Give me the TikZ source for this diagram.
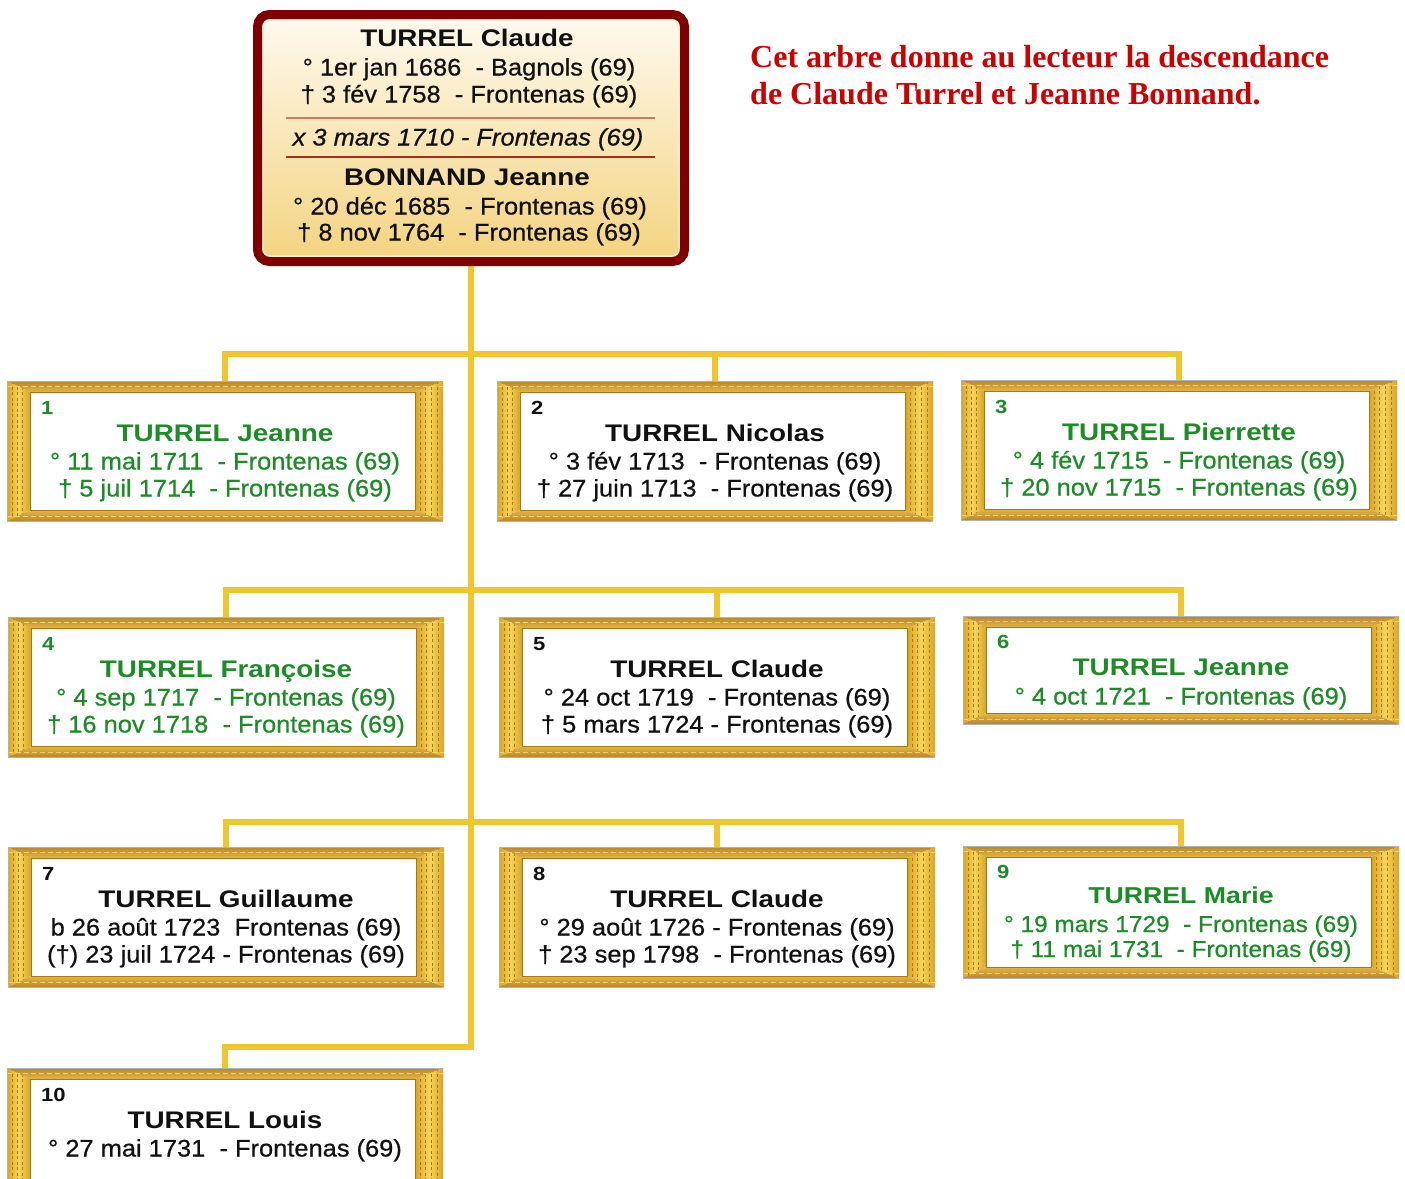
\documentclass[tikz,border=0pt]{standalone}
\usepackage{fontspec}
\setmainfont[FakeStretch=1.06,FakeBold=0.6]{Liberation Sans}
\newfontfamily\namefont[FakeStretch=1.16]{Liberation Sans}
\newfontfamily\capfont{Liberation Serif}
\usetikzlibrary{backgrounds}
\definecolor{connY}{RGB}{240,198,46}
\definecolor{goldA}{HTML}{F6D55A}
\definecolor{goldB}{HTML}{D9A424}
\definecolor{goldD}{HTML}{A87818}
\definecolor{goldT1}{HTML}{B8862C}
\definecolor{goldT2}{HTML}{E2B645}
\definecolor{darkRed}{HTML}{7E0000}
\definecolor{capRed}{RGB}{205,0,0}
\definecolor{kidGreen}{RGB}{28,140,38}
\definecolor{inkBlack}{HTML}{111111}
\definecolor{creamTop}{HTML}{FFFAF0}
\definecolor{creamBot}{HTML}{F3D37E}
\definecolor{sepA}{HTML}{C87A66}
\definecolor{sepB}{HTML}{B02A18}
\def\kidsz{24}
\def\numoff{33.5}
\def\nameoff{60.5}
\def\dateoffA{88.5}
\def\dateoffB{115.5}
\tikzset{
  conn/.style={draw=connY, line width=6.5pt, line join=miter, line cap=butt},
  datetxt/.style={font=\fontsize{\kidsz}{\kidsz}\selectfont, inner sep=0pt},
  nametxt/.style={font=\namefont\bfseries\fontsize{\kidsz}{\kidsz}\selectfont, inner sep=0pt},
  numtxt/.style={font=\namefont\bfseries\fontsize{19}{19}\selectfont, inner sep=0pt},
  captxt/.style={font=\capfont\bfseries\fontsize{32}{32}\selectfont, text=capRed, inner sep=0pt, anchor=base west},
  sepline/.style={line width=1.6pt},
  goldframe/.style={rectangle, minimum width=436pt, inner sep=0pt, outer sep=0pt,
    path picture={
      \path (path picture bounding box.north west) coordinate (oNW)
            (path picture bounding box.north east) coordinate (oNE)
            (path picture bounding box.south west) coordinate (oSW)
            (path picture bounding box.south east) coordinate (oSE)
            ([xshift=23pt,yshift=-11pt]path picture bounding box.north west) coordinate (iNW)
            ([xshift=-28pt,yshift=-11pt]path picture bounding box.north east) coordinate (iNE)
            ([xshift=23pt,yshift=11pt]path picture bounding box.south west) coordinate (iSW)
            ([xshift=-28pt,yshift=11pt]path picture bounding box.south east) coordinate (iSE);
      \shade[left color=goldB, right color=goldB, middle color=goldA] (oNW) -- (iNW) -- (iSW) -- (oSW) -- cycle;
      \shade[left color=goldB, right color=goldB, middle color=goldA] (oNE) -- (iNE) -- (iSE) -- (oSE) -- cycle;
      \foreach \s in {5,10,15} {
        \draw[goldD, line width=0.9pt, dash pattern=on 3pt off 2.5pt] ([xshift=\s pt]oNW) -- ([xshift=\s pt]oSW);
      }
      \foreach \s in {6,12,18,23} {
        \draw[goldD, line width=0.9pt, dash pattern=on 3pt off 2.5pt] ([xshift=-\s pt]oNE) -- ([xshift=-\s pt]oSE);
      }
      \shade[top color=goldT1, bottom color=goldT2] (oNW) -- (oNE) -- (iNE) -- (iNW) -- cycle;
      \shade[top color=goldT2, bottom color=goldT1] (oSW) -- (oSE) -- (iSE) -- (iSW) -- cycle;
      \draw[goldA, line width=1pt, dash pattern=on 5pt off 3pt] ([yshift=-5pt]oNW) -- ([yshift=-5pt]oNE);
      \draw[goldA, line width=1pt, dash pattern=on 5pt off 3pt] ([yshift=5pt]oSW) -- ([yshift=5pt]oSE);
      \draw[gray!60, line width=1pt] (oNW) rectangle (oSE);
      \fill[white] (iNW) rectangle (iSE);
      \draw[goldD, line width=1pt] (iNW) rectangle (iSE);
    }},
}
% #1 id, #2 left, #3 top, #4 height, #5 colour, #6 number, #7 name, #8 date 1, #9 date 2
\newcommand\kidbox[9]{%
  \node[goldframe, minimum height=#4pt] (#1) at ({#2+218},{#3+#4/2}) {};
  \node[numtxt, text=#5, anchor=base west] (#1-no) at ({#2+34},{#3+\numoff}) {#6};
  \node[nametxt, text=#5, anchor=base] (#1-nm) at ({#2+218},{#3+\nameoff}) {#7};
  \node[datetxt, text=#5, anchor=base] (#1-da) at ({#2+218},{#3+\dateoffA}) {#8};
  \if\relax\detokenize{#9}\relax\else
    \node[datetxt, text=#5, anchor=base] (#1-db) at ({#2+218},{#3+\dateoffB}) {#9};
  \fi
}
\begin{document}
\begin{tikzpicture}[x=1pt,y=-1pt]
\clip (0,0) rectangle (1405,1178);

% couple box
\node[rectangle, rounded corners=12pt, draw=darkRed, line width=9pt,
      top color=creamTop, bottom color=creamBot,
      minimum width=427pt, minimum height=247pt, inner sep=0pt,
      path picture={\draw[white!70!creamBot, line width=1.5pt, rounded corners=7pt]
        ([xshift=5.5pt,yshift=-5.5pt]path picture bounding box.north west) rectangle
        ([xshift=-5.5pt,yshift=5.5pt]path picture bounding box.south east);}]
      (top) at (471,138) {};
\draw[sepline, sepA] (286,118) -- (655,118);
\draw[sepline, sepB] (286,157) -- (655,157);
\begin{scope}[every node/.style={inner sep=0pt, anchor=base, text=inkBlack}]
\node[nametxt] (p1) at (467,46.5) {TURREL Claude};
\node[datetxt] (p1b) at (469,75.5) {° 1er jan 1686~ - Bagnols (69)};
\node[datetxt] (p1d) at (469,102.5) {† 3 fév 1758~ - Frontenas (69)};
\node[datetxt, font=\itshape\fontsize{24}{24}\selectfont] (mar) at (468,145.5) {x 3 mars 1710 - Frontenas (69)};
\node[nametxt] (p2) at (467,185.5) {BONNAND Jeanne};
\node[datetxt] (p2b) at (470,214.5) {° 20 déc 1685~ - Frontenas (69)};
\node[datetxt] (p2d) at (469,240.5) {† 8 nov 1764~ - Frontenas (69)};
\end{scope}

% caption
\node[captxt] (cap1) at (750,67.5) {Cet arbre donne au lecteur la descendance};
\node[captxt] (cap2) at (750,104.5) {de Claude Turrel et Jeanne Bonnand.};

% children
\kidbox{b1}{7}{381}{140}{kidGreen}{1}{TURREL Jeanne}{° 11 mai 1711~ - Frontenas (69)}{† 5 juil 1714~ - Frontenas (69)}
\kidbox{b2}{497}{381}{140}{inkBlack}{2}{TURREL Nicolas}{° 3 fév 1713~ - Frontenas (69)}{† 27 juin 1713~ - Frontenas (69)}
\kidbox{b3}{961}{380}{140}{kidGreen}{3}{TURREL Pierrette}{° 4 fév 1715~ - Frontenas (69)}{† 20 nov 1715~ - Frontenas (69)}
\kidbox{b4}{8}{617}{140}{kidGreen}{4}{TURREL Françoise}{° 4 sep 1717~ - Frontenas (69)}{† 16 nov 1718~ - Frontenas (69)}
\kidbox{b5}{499}{617}{140}{inkBlack}{5}{TURREL Claude}{° 24 oct 1719~ - Frontenas (69)}{† 5 mars 1724 - Frontenas (69)}
\begingroup
\def\numoff{32.5}\def\nameoff{59.5}
\kidbox{b6}{963}{616}{108}{kidGreen}{6}{TURREL Jeanne}{° 4 oct 1721~ - Frontenas (69)}{}
\endgroup
\kidbox{b7}{8}{847}{140}{inkBlack}{7}{TURREL Guillaume}{b 26 août 1723~ Frontenas (69)}{(†) 23 juil 1724 - Frontenas (69)}
\kidbox{b8}{499}{847}{140}{inkBlack}{8}{TURREL Claude}{° 29 août 1726 - Frontenas (69)}{† 23 sep 1798~ - Frontenas (69)}
\begingroup
\def\kidsz{23}\def\numoff{32.5}\def\nameoff{57}\def\dateoffA{86}\def\dateoffB{111}
\kidbox{b9}{963}{846}{132}{kidGreen}{9}{TURREL Marie}{° 19 mars 1729~ - Frontenas (69)}{† 11 mai 1731~ - Frontenas (69)}
\endgroup
\kidbox{b10}{7}{1068}{140}{inkBlack}{10}{TURREL Louis}{° 27 mai 1731~ - Frontenas (69)}{}

% connectors
\begin{pgfonlayer}{background}
\fill[white] (0,0) rectangle (1405,1178);
\draw[conn] (top.south) |- ([yshift=21pt]b10.north) -- (b10.north);
\draw[conn] (b1.north) -- ++(0,-27) -| (b3.north);
\draw[conn] (b2.north) -- ++(0,-27);
\draw[conn] (b4.north) -- ++(0,-27) -| (b6.north);
\draw[conn] (b5.north) -- ++(0,-27);
\draw[conn] (b7.north) -- ++(0,-25) -| (b9.north);
\draw[conn] (b8.north) -- ++(0,-25);
\end{pgfonlayer}
\end{tikzpicture}
\end{document}
